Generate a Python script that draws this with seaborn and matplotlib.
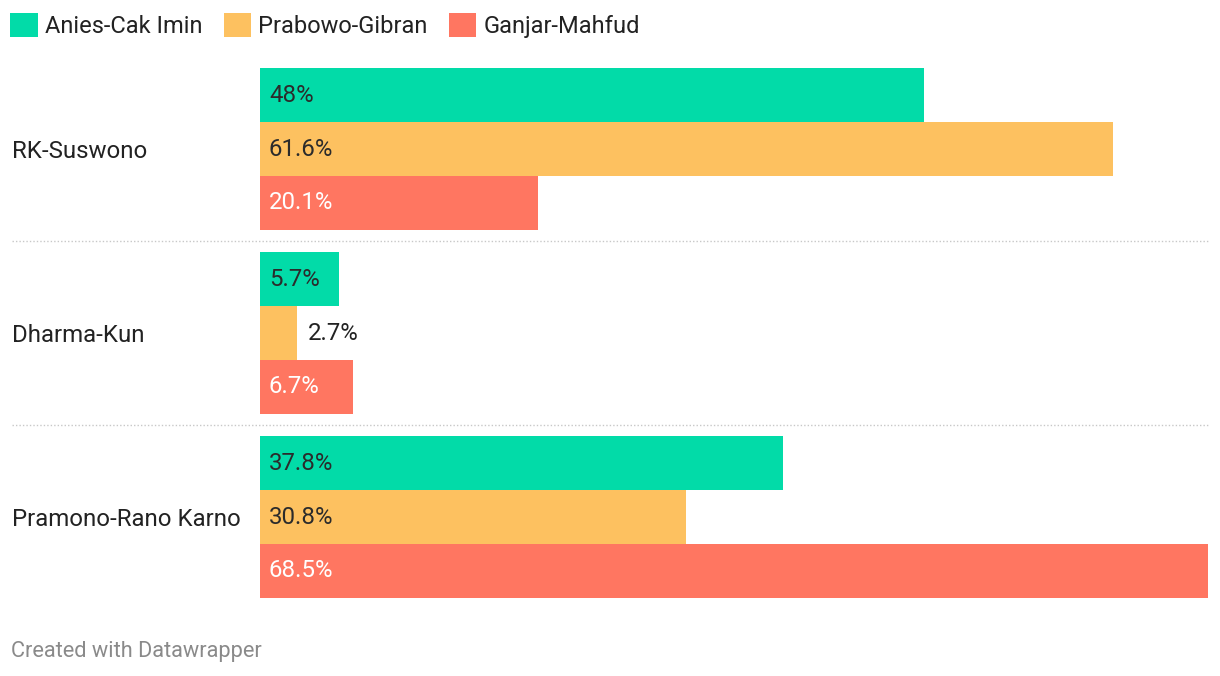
import matplotlib
matplotlib.use("Agg")
import matplotlib.pyplot as plt
import seaborn as sns
import pandas as pd

# data
candidates = ["RK-Suswono", "Dharma-Kun", "Pramono-Rano Karno"]
pairs = ["Anies-Cak Imin", "Prabowo-Gibran", "Ganjar-Mahfud"]
anies = [48.0, 5.7, 37.8]
prabowo = [61.6, 2.7, 30.8]
ganjar = [20.1, 6.7, 68.5]

colors = ["#02dba8", "#fdc160", "#ff7661"]
text_colors = ["#2b2b2b", "#2b2b2b", "#ffffff"]

rows = []
for p, vals in zip(pairs, [anies, prabowo, ganjar]):
    for c, v in zip(candidates, vals):
        rows.append({"candidate": c, "pair": p, "value": v})
df = pd.DataFrame(rows)

sns.set_style("white")
plt.rcParams["font.family"] = ["Roboto", "DejaVu Sans"]

FS = 17.3
W, H = 1220, 676
fig = plt.figure(figsize=(W / 100, H / 100), dpi=100)
ax = fig.add_axes([260 / W, (H - 609) / H, 948 / W, 552 / H])

sns.barplot(data=df, y="candidate", x="value", hue="pair", order=candidates,
            hue_order=pairs, palette=colors, orient="h", width=0.88, gap=0,
            saturation=1, linewidth=0, ax=ax)

ax.set_xlim(0, 68.5)
ax.set_ylim(2.5, -0.5)
ax.set_xlabel("")
ax.set_ylabel("")
ax.set_xticks([])
for s in ax.spines.values():
    s.set_visible(False)

ax.tick_params(axis="y", length=0, pad=248 * 0.72, labelsize=FS, labelcolor="#222222")
for lab in ax.get_yticklabels():
    lab.set_ha("left")

# value labels
px = 68.5 / 948
for i, cont in enumerate(ax.containers):
    for bar in cont:
        w = bar.get_width()
        yc = bar.get_y() + bar.get_height() / 2
        txt = f"{w:g}%"
        if w / px < 60:
            ax.text(w + 11 * px, yc, txt, va="center", ha="left",
                    fontsize=FS, color="#222222")
        else:
            ax.text(9 * px, yc, txt, va="center", ha="left",
                    fontsize=FS, color=text_colors[i])

# dotted separators between groups
for y in [0.5, 1.5]:
    ax.axhline(y, xmin=(12 - 260) / 948, xmax=1, color="#c8c8c8",
               linestyle=(0, (1, 1.5)), linewidth=1, clip_on=False)

handles, labels = ax.get_legend_handles_labels()
ax.legend_.remove()
fig.legend(handles, labels, loc="upper left", bbox_to_anchor=(1 / W, 1 - 4 / H),
           ncol=3, frameon=False, fontsize=17, handlelength=1.15, handleheight=1.15,
           handletextpad=0.3, columnspacing=0.92, borderaxespad=0, labelcolor="#222222")

fig.text(11 / W, 1 - 651 / H, "Created with Datawrapper", fontsize=15.7,
         color="#8a8a8a", va="center", ha="left")

fig.savefig("out.png", dpi=100)
